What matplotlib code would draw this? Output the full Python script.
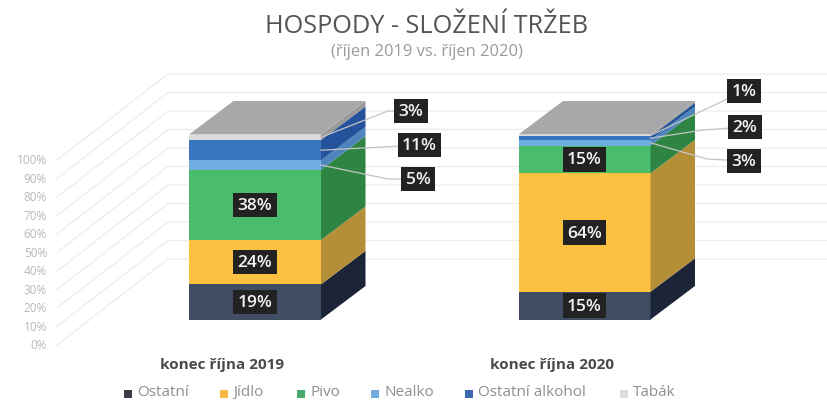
import matplotlib
matplotlib.use("Agg")
import matplotlib.pyplot as plt
from matplotlib.patches import Polygon

plt.rcParams['font.family'] = ['Open Sans', 'DejaVu Sans']

kategorie = ["Ostatní", "Jídlo", "Pivo", "Nealko", "Ostatní alkohol", "Tabák"]
rok_2019 = [19, 24, 38, 5, 11, 3]
rok_2020 = [15, 64, 15, 3, 2, 1]
sloupce = ["konec října 2019", "konec října 2020"]
tick_hodnoty = [0, 10, 20, 30, 40, 50, 60, 70, 80, 90, 100]

barvy = ["#414d63", "#fdc141", "#4bbb6c", "#6fade0", "#3a76bf", "#dcdcdc"]
barvy_bok = ["#1c2538", "#b48f38", "#2e8543", "#4d84bd", "#24539b", "#9a9a9a"]
barva_vrch = "#a8a8aa"
legenda_barvy = ["#3a3a4a", "#f5b942", "#4bab6c", "#6fade0", "#3a68ad", "#dedede"]

# skala: 1 % = 1.85 px, osa x primo v pixelech
K = 1.85
SPODEK = 320.5


def py(y):
    return (SPODEK - y) / K


fig = plt.figure(figsize=(8.27, 4.02), dpi=100)
ax = fig.add_axes([0, 0, 1, 1])
ax.set_xlim(0, 827)
ax.set_ylim(py(402), py(0))
ax.axis("off")

# mrizka - podlaha a zadni stena
for t in tick_hodnoty:
    y0 = py(346) + t
    y1 = py(260) + t
    ax.plot([57, 168, 827], [y0, y1, y1], color="#ececec", lw=0.9, zorder=1)
    ax.text(47, y0, f"{t}%", ha="right", va="center", fontsize=8.5, color="#b8b8b8")

hloubka_x = 44.5
hloubka_y = 33.5 / K
sirka = 132
leve = [189, 518.5]

popisek = dict(color="#f4f4f4", ha="center", va="center", fontsize=12.5, fontweight="semibold",
               bbox=dict(boxstyle="square,pad=0.24", fc="#222222", ec="none"), zorder=6)

# pozice vynesenych popisku: (x, y v px), zlom cary nebo None
vynesene = [
    {5: (411, 112, (388, 112)), 4: (419.5, 146, None), 3: (418, 180, (388, 180))},
    {3: (744, 162, (707, 160)), 4: (745, 128, (703, 131)), 5: (744, 92, None)},
]

for sl, hodnoty in enumerate([rok_2019, rok_2020]):
    x0 = leve[sl]
    x1 = x0 + sirka
    dole = 0
    for i, h in enumerate(hodnoty):
        nahore = dole + h
        ax.bar(x0, h, width=sirka, bottom=dole, align="edge", color=barvy[i], zorder=3)
        ax.add_patch(Polygon([(x1, dole), (x1 + hloubka_x, dole + hloubka_y),
                              (x1 + hloubka_x, nahore + hloubka_y), (x1, nahore)],
                             closed=True, fc=barvy_bok[i], ec="none", zorder=3))
        stred = dole + h / 2
        if i in vynesene[sl]:
            bx, by, zlom = vynesene[sl][i]
            xs = [x1]
            ys = [stred]
            if zlom:
                xs.append(zlom[0])
                ys.append(py(zlom[1]))
            xs.append(bx)
            ys.append(py(by))
            ax.plot(xs, ys, color="#c4c4c4", lw=0.9, zorder=5)
            ax.text(bx, py(by), f"{h}%", **popisek)
        else:
            ax.text(x0 + sirka / 2, stred, f"{h}%", **popisek)
        dole = nahore
    ax.add_patch(Polygon([(x0, 100), (x1, 100), (x1 + hloubka_x, 100 + hloubka_y),
                          (x0 + hloubka_x, 100 + hloubka_y)],
                         closed=True, fc=barva_vrch, ec="none", zorder=3))

ax.text(222, py(365), sloupce[0], ha="center", va="center", fontsize=11, fontweight="bold", color="#4a4a4a")
ax.text(552, py(365), sloupce[1], ha="center", va="center", fontsize=11, fontweight="bold", color="#4a4a4a")

ax.text(426.5, py(27), "HOSPODY - SLOŽENÍ TRŽEB", ha="center", va="center", fontsize=18.2, fontweight="medium", color="#555555")
ax.text(426.5, py(52), "(říjen 2019 vs. říjen 2020)", ha="center", va="center", fontsize=11.9, color="#9a9a9a")

# legenda
leg_x = [128, 224, 301, 375, 469, 624]
for i, k in enumerate(kategorie):
    ax.scatter(leg_x[i], py(395), marker="s", s=26, color=legenda_barvy[i], zorder=4, linewidths=0)
    ax.text(leg_x[i] + 9, py(392.5), k, ha="left", va="center", fontsize=11, color="#8f8f8f")

fig.savefig("out.png", dpi=100)
